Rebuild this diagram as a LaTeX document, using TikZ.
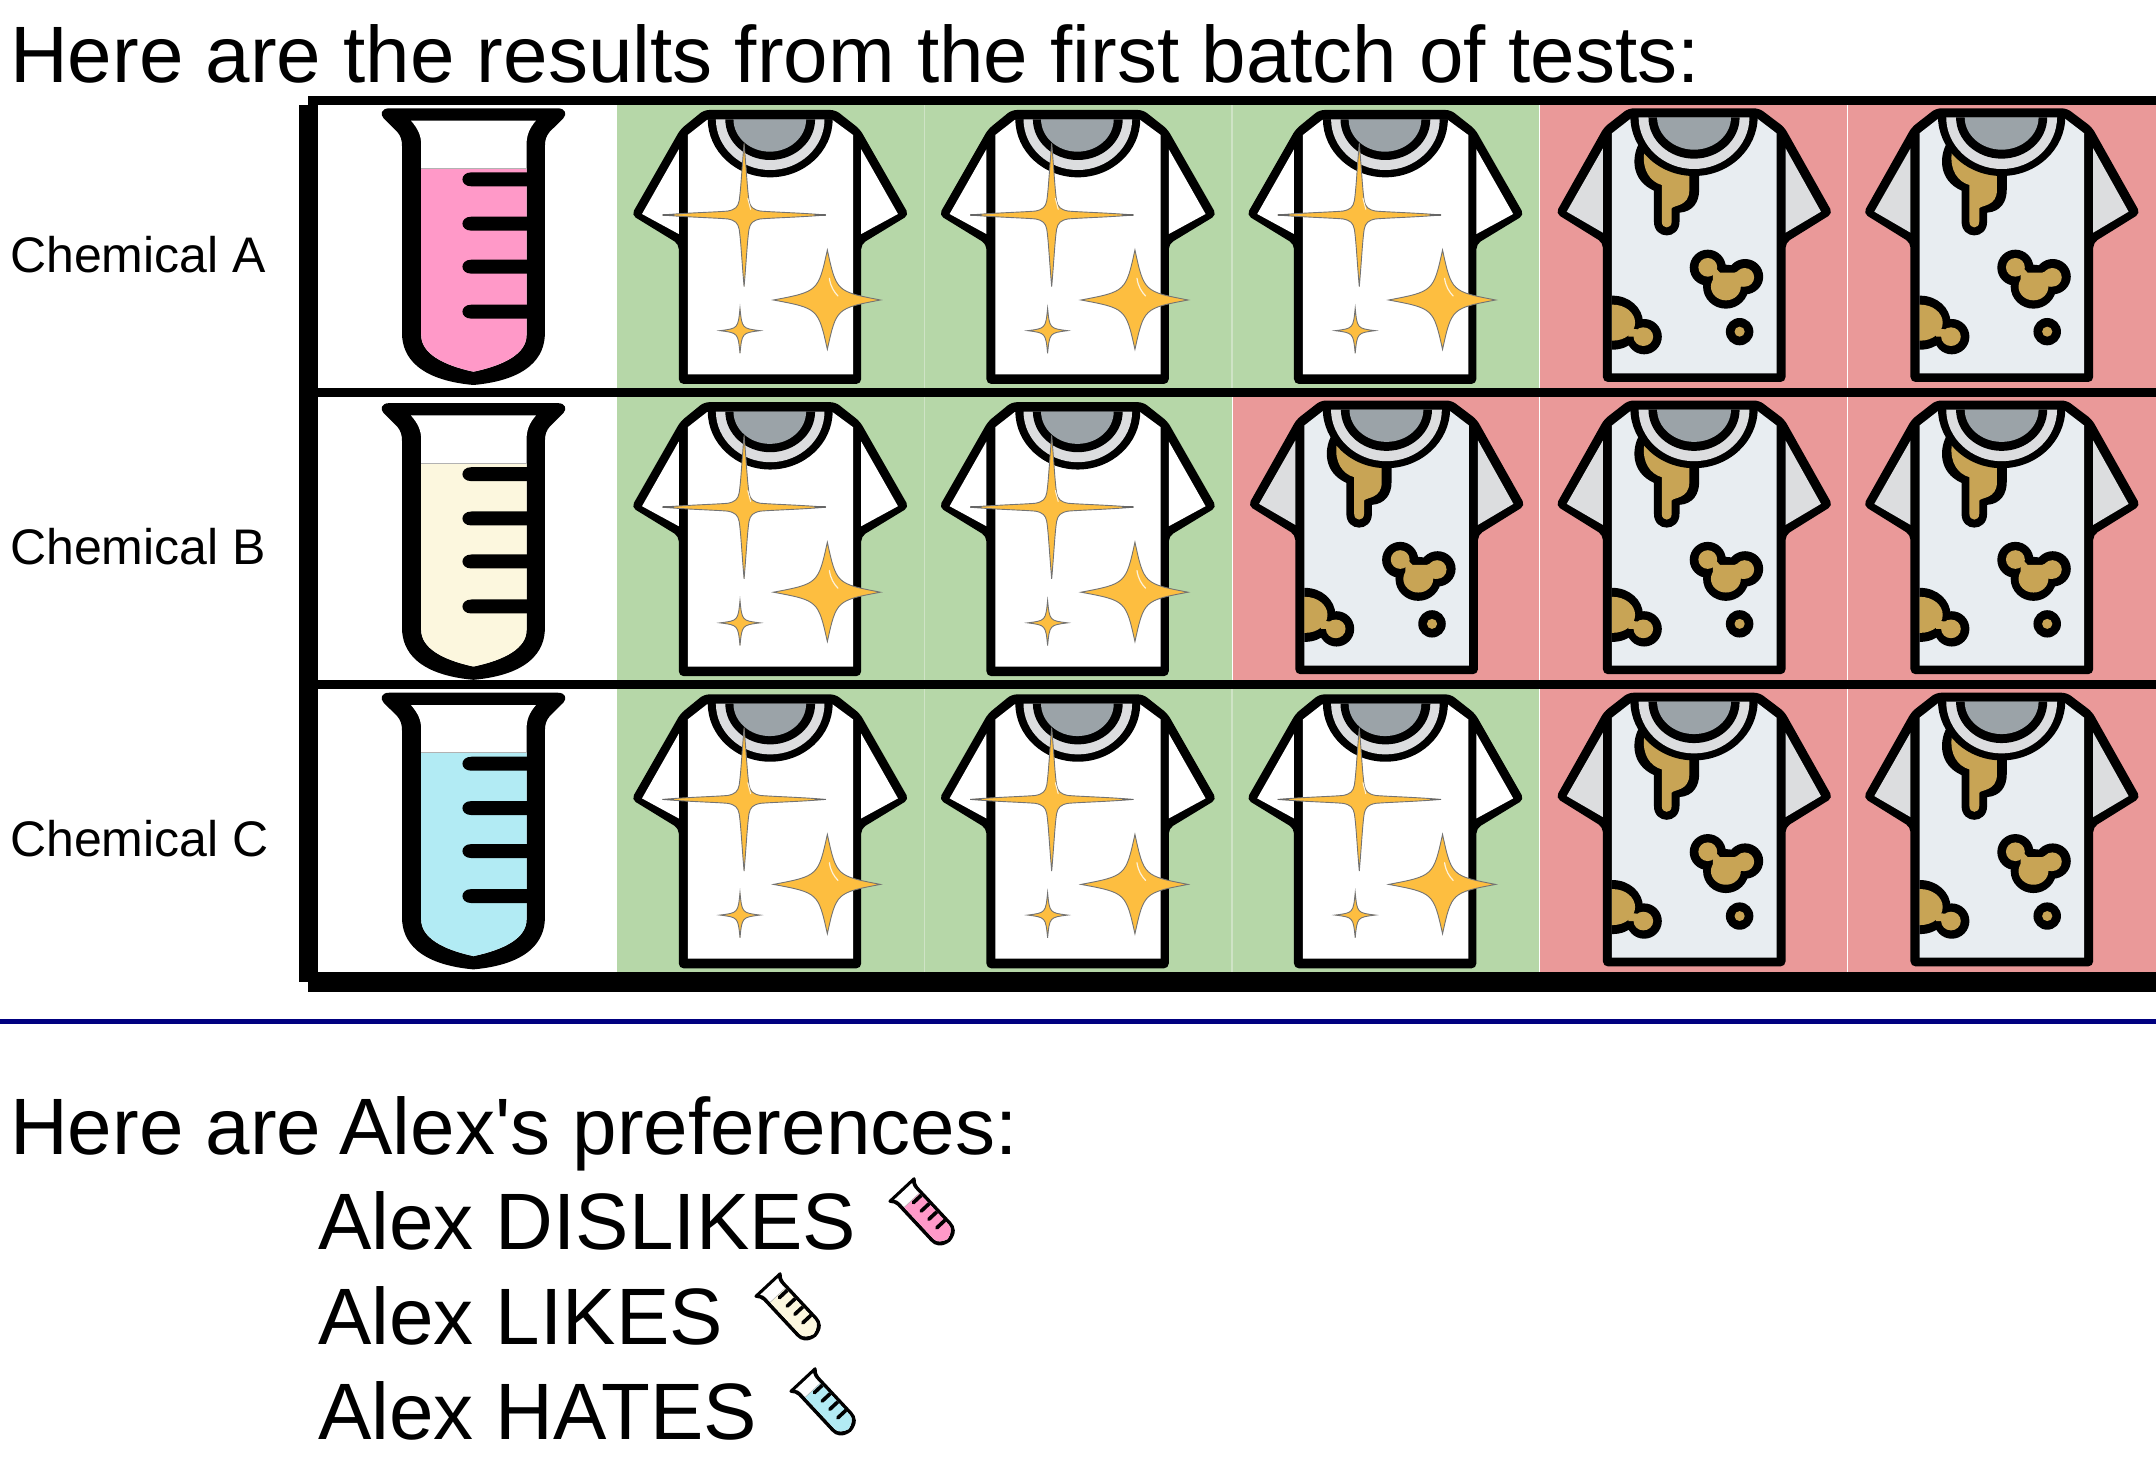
\documentclass[tikz,border=0pt]{standalone}
\usepackage{fontspec}
\setmainfont{Liberation Sans}
\definecolor{cellgreen}{HTML}{B6D7A8}
\definecolor{cellred}{HTML}{EA9999}
\definecolor{sepgreen}{HTML}{CFE3C6}
\definecolor{liqpink}{HTML}{FF99C8}
\definecolor{liqcream}{HTML}{FCF7DE}
\definecolor{liqcyan}{HTML}{B2EBF4}
\definecolor{gold}{HTML}{FDBE40}
\definecolor{tan}{HTML}{C8A455}
\definecolor{neckgrey}{HTML}{9BA3A8}
\definecolor{collargrey}{HTML}{DCDDDF}
\definecolor{bodygrey}{HTML}{E8EDF1}
\definecolor{navyline}{HTML}{000080}
\tikzset{
  bigtext/.style={anchor=base west,inner sep=0pt,font=\fontsize{80}{80}\selectfont},
  labeltext/.style={anchor=base west,inner sep=0pt,font=\fontsize{50}{50}\selectfont},
  sparkstyle/.style={fill=gold,draw=black!55,line width=0.9pt},
  bar/.style={fill=black},
  sepline/.style={line width=1.2pt,sepgreen},
  seplinew/.style={line width=0.9pt,white}
}
% half ellipse hanging from a straight top edge: colour, cx, a, b, top
\newcommand{\halfell}[5]{\fill[#1] ({#2-#3},#5) .. controls ({#2-#3},{#5+.55*#4}) and ({#2-.55*#3},{#5+#4}) .. (#2,{#5+#4}) .. controls ({#2+.55*#3},{#5+#4}) and ({#2+#3},{#5+.55*#4}) .. ({#2+#3},#5) -- cycle;}
% four-pointed star: cx, cy, left, right, top, bottom, k
\newcommand{\starfour}[7]{\filldraw[sparkstyle] ({#1-#3},#2) .. controls ({#1-#7*#3},{#2-#7*#5}) .. (#1,{#2-#5}) .. controls ({#1+#7*#4},{#2-#7*#5}) .. ({#1+#4},#2) .. controls ({#1+#7*#4},{#2+#7*#6}) .. (#1,{#2+#6}) .. controls ({#1-#7*#3},{#2+#7*#6}) .. ({#1-#3},#2) -- cycle;}
% long-armed star, one quadrant out and one back
\newcommand{\quadrant}[2]{ .. controls ({\scx+#1*.03*\sr},{\scy-#2*.6*\st}) and ({\scx+#1*.04*\sr},{\scy-#2*.35*\st}) .. ({\scx+#1*.06*\sr},{\scy-#2*.2*\st}) .. controls ({\scx+#1*.075*\sr},{\scy-#2*.11*\st}) and ({\scx+#1*.11*\sr},{\scy-#2*.075*\st}) .. ({\scx+#1*.2*\sr},{\scy-#2*.055*\st}) .. controls ({\scx+#1*.35*\sr},{\scy-#2*.04*\st}) and ({\scx+#1*.7*\sr},{\scy-#2*.03*\st}) .. ({\scx+#1*\sr},\scy)}
\newcommand{\quadrantback}[2]{ .. controls ({\scx+#1*.7*\sr},{\scy-#2*.03*\st}) and ({\scx+#1*.35*\sr},{\scy-#2*.04*\st}) .. ({\scx+#1*.2*\sr},{\scy-#2*.055*\st}) .. controls ({\scx+#1*.11*\sr},{\scy-#2*.075*\st}) and ({\scx+#1*.075*\sr},{\scy-#2*.11*\st}) .. ({\scx+#1*.06*\sr},{\scy-#2*.2*\st}) .. controls ({\scx+#1*.04*\sr},{\scy-#2*.35*\st}) and ({\scx+#1*.03*\sr},{\scy-#2*.6*\st}) .. (\scx,{\scy-#2*\st})}
\newcommand{\longstar}{%
  \def\scx{1088}\def\scy{375}\def\sr{200}\def\st{215}%
  \filldraw[sparkstyle] (\scx,{\scy-\st}) \quadrant{1}{1} \quadrantback{1}{-1} \quadrant{-1}{-1} \quadrantback{-1}{1} -- cycle;
  \draw[black!60,line width=1.6pt,line cap=round] (890,375) -- (915,375);
  \draw[black!60,line width=1.6pt,line cap=round] (1262,375) -- (1287,375);
  \draw[white!80!gold,line width=1pt,line cap=round] (1097,325) -- (1104,358);
}
\newcommand{\tubeshape}[1]{%
  \fill[black] (218,55) -- (632,55) .. controls (650,55) and (655,72) .. (645,85) -- (612,125) .. controls (603,138) and (600,150) .. (600,170) -- (600,730) .. controls (600,800) and (560,870) .. (425,885) .. controls (290,870) and (250,800) .. (250,730) -- (250,170) .. controls (250,150) and (247,138) .. (238,125) -- (205,85) .. controls (195,72) and (200,55) .. (218,55) -- cycle;
  \fill[white] (272,92) -- (578,92) .. controls (562,115) and (555,135) .. (555,165) -- (555,735) .. controls (555,790) and (502,825) .. (425,845) .. controls (350,825) and (297,790) .. (297,735) -- (297,165) .. controls (297,135) and (288,115) .. (272,92) -- cycle;
  \fill[#1] (297,235) -- (555,235) -- (555,735) .. controls (555,790) and (502,825) .. (425,845) .. controls (350,825) and (297,790) .. (297,735) -- cycle;
  \draw[black!30,line width=0.5pt] (297,235) -- (555,235);
  \foreach \yy in {268,401,530,665}{
    \fill[black] (558,{\yy-21}) -- (420,{\yy-21}) .. controls (405,{\yy-21}) and (398,{\yy-10}) .. (398,\yy) .. controls (398,{\yy+10}) and (405,{\yy+21}) .. (420,{\yy+21}) -- (558,{\yy+21}) -- cycle;
  }
}
\newcommand{\goodshirt}{%
  \fill[black,rounded corners=5pt] (990,60) -- (1312,60) -- (1372,118) -- (1492,375) -- (1375,462) -- (1375,882) -- (928,882) -- (928,462) -- (812,375) -- (932,118) -- cycle;
  \fill[white] (928,178) -- (838,372) -- (928,432) -- cycle;
  \fill[white] (1375,178) -- (1465,372) -- (1375,432) -- cycle;
  \fill[white] (950,135) -- (997,90) -- (1305,90) -- (1355,135) -- (1355,853) -- (950,853) -- cycle;
  \halfell{black}{1152}{153}{174}{88}
  \halfell{collargrey}{1152}{133}{152}{88}
  \halfell{black}{1152}{110}{122}{88}
  \halfell{neckgrey}{1151}{89}{97}{88}
  \longstar
  \starfour{1292}{630}{132}{130}{150}{148}{0.17}
  \starfour{1078}{722}{49}{49}{67}{68}{0.1}
  \draw[white!80!gold,line width=1.2pt,line cap=round] (1297,565) .. controls (1300,590) and (1308,605) .. (1318,618);
}
\newcommand{\badshirt}{%
  \fill[black,rounded corners=5pt] (225,55) -- (558,55) -- (622,112) -- (745,370) -- (625,458) -- (625,876) -- (160,876) -- (160,458) -- (40,370) -- (163,112) -- cycle;
  \fill[collargrey] (160,175) -- (68,365) -- (160,428) -- cycle;
  \fill[collargrey] (625,175) -- (715,365) -- (625,428) -- cycle;
  \fill[bodygrey] (183,130) -- (232,85) -- (552,85) -- (602,130) -- (602,850) -- (183,850) -- cycle;
  % stain from the collar
  \fill[black] (250,165) .. controls (235,200) and (230,270) .. (290,302) -- (290,395) .. controls (290,450) and (355,450) .. (355,395) -- (355,368) .. controls (390,365) and (405,335) .. (405,300) -- (405,240) -- cycle;
  \fill[tan] (265,190) .. controls (260,240) and (280,275) .. (310,285) -- (310,395) .. controls (310,418) and (335,418) .. (335,395) -- (335,355) .. controls (340,345) and (380,350) .. (380,300) -- (380,240) -- cycle;
  % blob
  \fill[black] (427,533) ellipse [x radius=46,y radius=54];
  \fill[black] (522,560) ellipse [x radius=46,y radius=53];
  \fill[black] (473,590) ellipse [x radius=58,y radius=66];
  \fill[tan] (427,532) ellipse [x radius=24,y radius=28];
  \fill[tan] (521,562) ellipse [x radius=24,y radius=28];
  \fill[tan] (473,590) ellipse [x radius=38,y radius=41];
  \fill[tan] (440,525) -- (458,548) -- (495,548) -- (512,540) -- (520,590) -- (440,585) -- cycle;
  % ring
  \fill[black] (508,725) ellipse [x radius=35,y radius=41];
  \fill[tan] (508,725) ellipse [x radius=13,y radius=15];
  % edge stain
  \begin{scope}
    \clip (183,600) rectangle (330,810);
    \fill[black] (185,698) ellipse [x radius=77,y radius=81];
    \fill[black] (265,740) ellipse [x radius=45,y radius=53];
    \fill[tan] (185,698) ellipse [x radius=57,y radius=54];
    \fill[tan] (263,740) ellipse [x radius=25,y radius=28];
    \fill[tan] (225,715) -- (248,718) -- (245,740) -- (225,740) -- cycle;
  \end{scope}
  \halfell{black}{392}{162}{178}{80}
  \halfell{collargrey}{392}{141}{155}{82}
  \halfell{black}{392}{116}{124}{82}
  \halfell{neckgrey}{392}{94}{97}{82}
}
\newcommand{\bigtube}[2]{\begin{scope}[shift={(300,{90+#1*292.2})},x=0.40816pt,y=-0.33333pt]\tubeshape{#2}\end{scope}}
\newcommand{\gshirt}[2]{\begin{scope}[shift={({300+#2*307.6},{90+#1*292.2})},x=0.40816pt,y=-0.33333pt]\goodshirt\end{scope}}
\newcommand{\bshirt}[2]{\begin{scope}[shift={({1540+(#2-3)*307.6},{90+#1*292.2})},x=0.39293pt,y=-0.33333pt]\badshirt\end{scope}}
\newcommand{\smalltube}[3]{\begin{scope}[shift={(#1,#2)},rotate=43,x=0.08pt,y=-0.0867pt,shift={(-425,-72)}]\tubeshape{#3}\end{scope}}
\begin{document}
\begin{tikzpicture}[x=1pt,y=-1pt]
\useasboundingbox[fill=white] (0,0) rectangle (2156,1461);
% cell backgrounds
\fill[cellgreen] (617,105) rectangle (1539.5,388);
\fill[cellred] (1539.5,105) rectangle (2156,388);
\fill[cellgreen] (617,397) rectangle (1232,680);
\fill[cellred] (1232,397) rectangle (2156,680);
\fill[cellgreen] (617,689) rectangle (1539.5,972);
\fill[cellred] (1539.5,689) rectangle (2156,972);
% cell separators
\draw[sepline] (924.5,105) -- (924.5,388);
\draw[sepline] (1232,105) -- (1232,388);
\draw[seplinew] (1539.5,105) -- (1539.5,388);
\draw[seplinew] (1847,105) -- (1847,388);
\draw[sepline] (924.5,397) -- (924.5,680);
\draw[seplinew] (1232,397) -- (1232,680);
\draw[seplinew] (1539.5,397) -- (1539.5,680);
\draw[seplinew] (1847,397) -- (1847,680);
\draw[sepline] (924.5,689) -- (924.5,972);
\draw[sepline] (1232,689) -- (1232,972);
\draw[seplinew] (1539.5,689) -- (1539.5,972);
\draw[seplinew] (1847,689) -- (1847,972);
% frame
\fill[bar] (308,96) rectangle (2156,105);
\fill[bar] (299,105) rectangle (318,982);
\fill[bar] (318,388) rectangle (2156,397);
\fill[bar] (318,680) rectangle (2156,689);
\fill[bar] (308,972) rectangle (2156,992);
\fill[navyline] (0,1019) rectangle (2156,1024);
% tubes
\bigtube{0}{liqpink}
\bigtube{1.009}{liqcream}
\bigtube{2}{liqcyan}
% shirts
\foreach \k in {0,1,2}{\gshirt{0}{\k}}
\foreach \k in {3,4}{\bshirt{0}{\k}}
\foreach \k in {0,1}{\gshirt{1}{\k}}
\foreach \k in {2,3,4}{\bshirt{1}{\k}}
\foreach \k in {0,1,2}{\gshirt{2}{\k}}
\foreach \k in {3,4}{\bshirt{2}{\k}}
% text
\node[bigtext] (title) at (10,83) {Here are the results from the first batch of tests:};
\node[labeltext] (chemA) at (10,272) {Chemical A};
\node[labeltext] (chemB) at (10,564) {Chemical B};
\node[labeltext] (chemC) at (10,856) {Chemical C};
\node[bigtext] (prefs) at (10,1154) {Here are\kern-4pt{} Alex\textquotesingle s preferences:};
\node[bigtext] (dislikes) at (318,1249) {Alex DISLIKES};
\node[bigtext] (likes) at (318,1344) {Alex LIKES};
\node[bigtext] (hates) at (318,1439) {Alex HATES};
% small tubes
\smalltube{902}{1190}{liqpink}
\smalltube{768}{1285}{liqcream}
\smalltube{803}{1380}{liqcyan}
\end{tikzpicture}
\end{document}
